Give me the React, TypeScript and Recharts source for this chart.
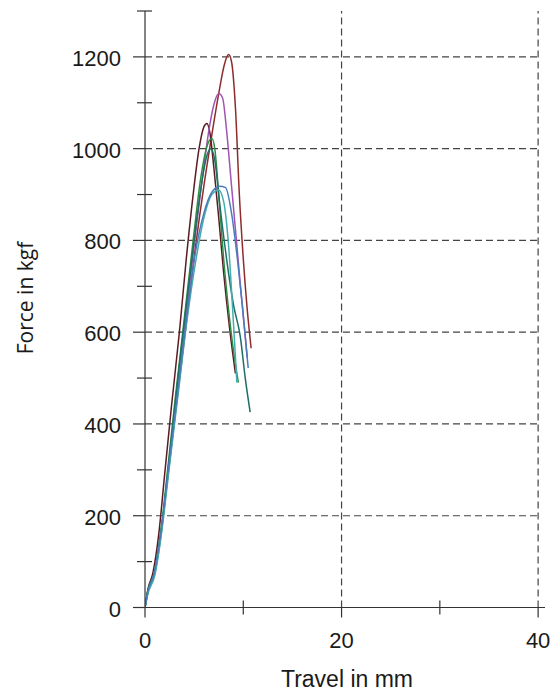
import { LineChart, Line, XAxis, YAxis, ReferenceLine } from "recharts";

// axis ticks
const xTicks = [0, 10, 20, 30, 40];
const xLabels = [0, 20, 40];
const yTicks = [0, 100, 200, 300, 400, 500, 600, 700, 800, 900, 1000, 1100, 1200, 1300];
const yLabels = [0, 200, 400, 600, 800, 1000, 1200];
const gridY = [200, 400, 600, 800, 1000, 1200];
const gridX = [20, 40];

// travel (mm), force (kgf) per specimen
const maroon = [
  [0, 0], [0.3, 35], [0.9, 70], [1.6, 160], [2.4, 300], [3.3, 460], [4.2, 620], [5.1, 780],
  [6.0, 920], [6.8, 1030], [7.5, 1120], [8.1, 1185], [8.5, 1205], [8.8, 1190], [9.2, 1090],
  [9.6, 900], [10.0, 760], [10.4, 650], [10.8, 565],
];
const darkRed = [
  [0, 0], [0.3, 40], [0.8, 75], [1.4, 160], [2.0, 290], [2.7, 440], [3.5, 600], [4.2, 760],
  [4.9, 900], [5.5, 1000], [6.0, 1048], [6.3, 1055], [6.6, 1035], [7.0, 960], [7.5, 850],
  [8.0, 730], [8.6, 610], [9.2, 510],
];
const purple = [
  [0, 0], [0.3, 35], [0.9, 70], [1.6, 160], [2.4, 300], [3.2, 450], [4.1, 620], [5.0, 790],
  [5.8, 930], [6.5, 1040], [7.0, 1095], [7.5, 1120], [7.9, 1110], [8.3, 1040], [8.8, 920],
  [9.3, 800], [9.8, 680], [10.4, 545],
];
const green = [
  [0, 0], [0.3, 38], [0.9, 72], [1.6, 165], [2.3, 300], [3.1, 460], [4.0, 630], [4.9, 800],
  [5.7, 940], [6.3, 1005], [6.8, 1022], [7.1, 1000], [7.5, 900], [8.0, 760], [8.5, 650],
  [9.0, 560], [9.5, 490],
];
const darkTeal = [
  [0, 0], [0.3, 36], [1.0, 75], [1.7, 170], [2.4, 310], [3.2, 470], [4.1, 640], [5.0, 800],
  [5.8, 930], [6.3, 985], [6.7, 1000], [7.1, 975], [7.6, 880], [8.3, 760], [9.0, 660],
  [9.7, 590], [10.2, 500], [10.7, 426],
];
const teal = [
  [0, 0], [0.3, 30], [1.0, 70], [1.7, 165], [2.5, 310], [3.4, 470], [4.3, 630], [5.2, 760],
  [6.0, 850], [6.8, 900], [7.5, 910], [8.0, 885], [8.5, 790], [9.0, 620], [9.35, 490],
];
const blue = [
  [0, 0], [0.3, 35], [0.9, 72], [1.6, 160], [2.4, 305], [3.3, 465], [4.2, 625], [5.1, 770],
  [6.0, 860], [6.8, 905], [7.6, 918], [8.2, 915], [8.8, 860], [9.4, 760], [9.9, 660],
  [10.5, 522],
];

const series = [
  { name: "s1", pts: maroon, color: "#8e2c2c" },
  { name: "s2", pts: darkRed, color: "#5c1b24" },
  { name: "s3", pts: purple, color: "#a054b4" },
  { name: "s4", pts: green, color: "#2e8c44" },
  { name: "s5", pts: darkTeal, color: "#1d6f66" },
  { name: "s6", pts: teal, color: "#45adad" },
  { name: "s7", pts: blue, color: "#4a7cbc" },
];

const tickFont = { fontFamily: "'Liberation Sans', Arial, sans-serif", fontSize: 22, fill: "#1a1a1a" };

const XTick = (props) => {
  const { x, y, payload } = props;
  const v = payload.value;
  const major = xLabels.includes(v);
  return (
    <g>
      <line x1={x} x2={x} y1={major ? y : y - 7} y2={major ? y + 10 : y + 7} stroke="#333" strokeWidth={1.2} />
      {major && (
        <text x={x} y={y + 40} textAnchor="middle" {...tickFont}>
          {v}
        </text>
      )}
    </g>
  );
};

const YTick = (props) => {
  const { x, y, payload } = props;
  const v = payload.value;
  const major = yLabels.includes(v);
  return (
    <g>
      <line x1={major ? x - 12 : x - 8} x2={major ? x : x + 7} y1={y} y2={y} stroke="#333" strokeWidth={1.2} />
      {major && (
        <text x={x - 24} y={y + 9} textAnchor="end" {...tickFont}>
          {v}
        </text>
      )}
    </g>
  );
};

export default function App() {
  return (
    <div style={{ position: "absolute", left: 0, top: 0, width: 552, height: 693, background: "#fff" }}>
      <LineChart width={552} height={693} margin={{ top: 11, right: 7, bottom: 45.5, left: 85 }}>
        <XAxis
          dataKey="t"
          type="number"
          domain={[0, 40.7]}
          ticks={xTicks}
          interval={0}
          allowDataOverflow
          height={40}
          tickSize={0}
          tickMargin={0}
          tickLine={false}
          tick={<XTick />}
          axisLine={{ stroke: "#333", strokeWidth: 1.2 }}
        />
        <YAxis
          type="number"
          domain={[0, 1300]}
          ticks={yTicks}
          interval={0}
          width={60}
          tickSize={0}
          tickMargin={0}
          tickLine={false}
          tick={<YTick />}
          axisLine={{ stroke: "#333", strokeWidth: 1.2 }}
        />
        {gridY.map((v) => (
          <ReferenceLine
            key={"gy" + v}
            segment={[{ x: 0, y: v }, { x: 40, y: v }]}
            stroke="#444"
            strokeDasharray="7 4"
            strokeWidth={1.2}
          />
        ))}
        {gridX.map((v) => (
          <ReferenceLine
            key={"gx" + v}
            segment={[{ x: v, y: 0 }, { x: v, y: 1300 }]}
            stroke="#444"
            strokeDasharray="7 4"
            strokeWidth={1.2}
          />
        ))}
        {series.map((s) => (
          <Line
            key={s.name}
            data={s.pts.map(([t, f]) => ({ t, f }))}
            dataKey="f"
            type="monotone"
            dot={false}
            stroke={s.color}
            strokeWidth={1.5}
            isAnimationActive={false}
          />
        ))}
      </LineChart>
      <div
        style={{
          position: "absolute",
          left: 25,
          top: 298,
          transform: "translate(-50%, -50%) rotate(-90deg)",
          whiteSpace: "nowrap",
          fontFamily: "'Open Sans', sans-serif",
          fontSize: 21,
          color: "#1a1a1a",
        }}
      >
        Force in kgf
      </div>
      <div
        style={{
          position: "absolute",
          left: 347,
          top: 679,
          transform: "translate(-50%, -50%)",
          whiteSpace: "nowrap",
          fontFamily: "'Liberation Sans', Arial, sans-serif",
          fontSize: 23,
          color: "#1a1a1a",
        }}
      >
        Travel in mm
      </div>
    </div>
  );
}
